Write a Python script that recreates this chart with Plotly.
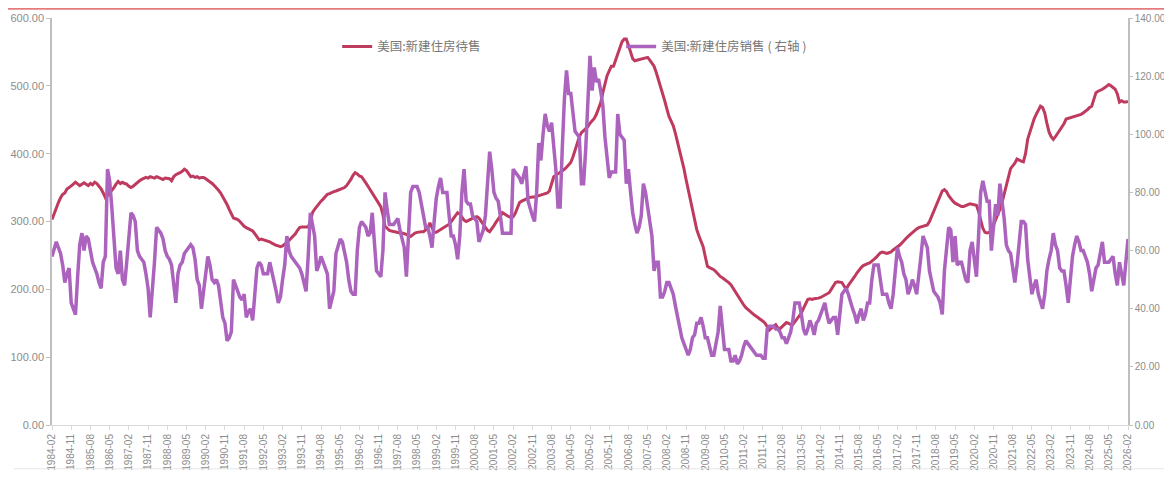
import pandas as pd
import plotly.graph_objects as go

# Monthly categories 1984-02 .. 2026-02
months = list(pd.period_range("1984-02", "2026-02", freq="M").strftime("%Y-%m"))
tick_labels = months[::9]

name_inventory = "美国:新建住房待售"
name_sales = "美国:新建住房销售 ( 右轴 )"

left_ticks = [0, 100, 200, 300, 400, 500, 600]
right_ticks = [0, 20, 40, 60, 80, 100, 120, 140]

# New homes for sale (thousands, left axis), one row per calendar year
inventory = [
    303, 312, 320, 328, 335, 340, 342, 348, 350, 352, 355,            # 1984 (Feb-Dec)
    358, 356, 353, 355, 357, 355, 353, 356, 354, 358, 356, 352,       # 1985
    348, 342, 335, 338, 342, 345, 350, 355, 359, 356, 358, 356,       # 1986
    355, 352, 350, 352, 355, 358, 360, 362, 364, 365, 364, 366,       # 1987
    365, 364, 366, 365, 363, 362, 364, 363, 363, 360, 366, 369,       # 1988
    370, 372, 374, 377, 375, 370, 366, 367, 365, 366, 364, 365,       # 1989
    365, 363, 361, 359, 356, 353, 350, 346, 342, 337, 331, 325,       # 1990
    318, 311, 305, 304, 303, 300, 296, 293, 291, 289, 288, 286,       # 1991
    282, 278, 273, 274, 273, 273, 272, 270, 268, 266, 265, 264,       # 1992
    263, 264, 266, 269, 272, 275, 278, 282, 287, 291, 292, 292,       # 1993
    292, 292, 300, 313, 318, 322, 327, 330, 333, 337, 340, 341,       # 1994
    343, 344, 345, 346, 347, 349, 350, 353, 357, 362, 368, 372,       # 1995
    370, 367, 366, 362, 357, 352, 347, 343, 338, 332, 327, 322,       # 1996
    310, 293, 290, 287, 286, 285, 284, 284, 283, 283, 282, 282,       # 1997
    280, 278, 281, 283, 284, 285, 285, 285, 287, 290, 298, 292,       # 1998
    284, 284, 286, 288, 290, 292, 293, 296, 300, 305, 309, 313,       # 1999
    311, 306, 302, 300, 301, 303, 305, 306, 307, 305, 300, 295,       # 2000
    290, 287, 285, 289, 294, 299, 303, 308, 313, 311, 308, 307,       # 2001
    306, 307, 312, 320, 328, 330, 331, 333, 335, 336, 336, 336,       # 2002
    337, 337, 338, 339, 340, 342, 345, 355, 366, 368, 370, 372,       # 2003
    374, 377, 380, 384, 387, 395, 405, 415, 425, 431, 434, 437,       # 2004
    440, 445, 448, 452, 458, 466, 475, 490, 505, 515, 522, 529,       # 2005
    529, 538, 548, 559, 565, 569, 569, 560, 548, 540, 537, 538,       # 2006
    539, 540, 541, 542, 542, 538, 534, 529, 520, 510, 500, 489,       # 2007
    478, 466, 455, 448, 441, 430, 418, 406, 392, 378, 362, 347,       # 2008
    332, 316, 298, 288, 279, 270, 263, 248, 234, 232, 231, 229,       # 2009
    226, 222, 219, 217, 215, 213, 210, 207, 202, 196, 190, 185,       # 2010
    181, 177, 173, 170, 167, 164, 162, 160, 158, 156, 153, 150,       # 2011
    145, 140, 143, 146, 148, 143, 142, 145, 148, 151, 150, 148,       # 2012
    148, 152, 156, 160, 165, 172, 180, 185, 186, 185, 186, 186,       # 2013
    187, 188, 190, 192, 193, 195, 200, 205, 210, 211, 211, 210,       # 2014
    205, 200, 206, 210, 214, 219, 224, 229, 232, 235, 237, 238,       # 2015
    239, 241, 244, 247, 250, 254, 255, 254, 253, 254, 255, 258,       # 2016
    260, 262, 265, 268, 272, 275, 278, 281, 284, 287, 289, 291,       # 2017
    292, 293, 293, 295, 300, 308, 315, 322, 330, 338, 345, 347,       # 2018
    344, 338, 333, 330, 327, 325, 323, 322, 322, 324, 325, 326,       # 2019
    325, 325, 324, 315, 300, 290, 284, 283, 284, 288, 295, 302,       # 2020
    310, 318, 328, 340, 352, 365, 378, 382, 386, 392, 390, 389,       # 2021
    388, 400, 421, 432, 440, 451, 458, 465, 470, 468, 460, 445,       # 2022
    432, 425, 421, 425, 430, 433, 438, 444, 451, 452, 453, 454,       # 2023
    454, 455, 456, 458, 460, 462, 465, 468, 470, 480, 490, 492,       # 2024
    493, 495, 497, 500, 502, 500, 498, 495, 488, 476, 478, 476,       # 2025
    476, 477,                                                         # 2026 (Jan-Feb)
]

# New home sales, not seasonally adjusted (thousands, right axis)
sales = [
    58, 61, 63, 61, 59, 55, 49, 52, 54, 42, 40,                       # 1984 (Feb-Dec)
    38, 51, 62, 66, 60, 65, 64, 60, 56, 54, 52, 49,                   # 1985
    47, 56, 58, 88, 84, 75, 62, 54, 52, 60, 50, 48,                   # 1986
    56, 64, 73, 72, 70, 60, 58, 57, 56, 52, 47, 37,                   # 1987
    45, 56, 68, 67, 66, 64, 60, 58, 57, 55, 48, 42,                   # 1988
    52, 55, 56, 59, 60, 61, 62, 61, 57, 50, 48, 40,                   # 1989
    46, 51, 58, 55, 50, 49, 50, 48, 42, 37, 35, 29,                   # 1990
    30, 32, 50, 48, 46, 44, 43, 45, 37, 39, 40, 36,                   # 1991
    45, 54, 56, 55, 52, 52, 52, 56, 53, 50, 46, 42,                   # 1992
    44, 50, 55, 65, 60, 58, 57, 56, 55, 54, 52, 49,                   # 1993
    46, 58, 73, 69, 65, 53, 55, 58, 56, 54, 52, 40,                   # 1994
    43, 46, 59, 62, 64, 63, 60, 56, 50, 46, 45, 45,                   # 1995
    60, 68, 70, 69, 68, 65, 66, 73, 62, 53, 52, 51,                   # 1996
    60, 80, 74, 69, 69, 69, 70, 71, 67, 64, 61, 51,                   # 1997
    65, 80, 82, 82, 82, 80, 75, 72, 68, 68, 65, 61,                   # 1998
    70, 78, 82, 85, 80, 80, 80, 72, 65, 65, 62, 57,                   # 1999
    65, 80, 88, 77, 76, 76, 72, 71, 70, 63, 65, 67,                   # 2000
    72, 85, 94, 88, 80, 78, 77, 72, 66, 66, 66, 66,                   # 2001
    66, 88, 87, 86, 85, 83, 86, 89, 77, 74, 72, 70,                   # 2002
    80, 97, 91, 100, 107, 103, 101, 104, 96, 88, 75, 75,              # 2003
    95, 112, 122, 114, 114, 107, 101, 100, 99, 83, 83, 95,            # 2004
    110, 127, 115, 123, 118, 119, 115, 110, 99, 92, 85, 87,           # 2005
    87, 87, 107, 100, 99, 98, 83, 88, 80, 73, 69, 66,                 # 2006
    68, 72, 83, 80, 75, 70, 65, 53, 56, 56, 44, 44,                   # 2007
    46, 49, 49, 47, 45, 41, 37, 33, 30, 28, 26, 24,                   # 2008
    26, 30, 31, 35, 35, 37, 34, 30, 30, 27, 24, 24,                   # 2009
    28, 32, 41, 33, 26, 26, 26, 22, 22, 24, 21, 22,                   # 2010
    24, 27, 29, 28, 27, 26, 25, 24, 24, 24, 23, 23,                   # 2011
    33, 34, 34, 34, 33, 33, 32, 30, 30, 28, 30, 32,                   # 2012
    36, 42, 42, 42, 38, 33, 31, 33, 36, 34, 31, 35,                   # 2013
    36, 38, 40, 42, 38, 35, 36, 37, 37, 31, 38, 45,                   # 2014
    46, 47, 45, 42, 40, 38, 35, 38, 40, 36, 38, 42,                   # 2015
    42, 50, 55, 55, 55, 50, 45, 45, 45, 42, 40, 45,                   # 2016
    52, 61, 58, 56, 52, 50, 45, 47, 50, 48, 45, 53,                   # 2017
    58, 65, 63, 61, 53, 50, 46, 45, 44, 42, 38, 53,                   # 2018
    60, 68, 67, 56, 65, 55, 56, 56, 53, 50, 49, 60,                   # 2019
    63, 58, 51, 65, 80, 84, 80, 77, 77, 60, 68, 76,                   # 2020
    72, 83, 77, 71, 62, 60, 59, 53, 49, 55, 62, 70,                   # 2021
    70, 69, 57, 50, 45, 48, 50, 45, 42, 40, 45, 53,                   # 2022
    57, 60, 66, 62, 60, 54, 53, 53, 48, 42, 50, 58,                   # 2023
    62, 65, 63, 60, 60, 58, 56, 52, 46, 50, 54, 55,                   # 2024
    60, 63, 56, 56, 56, 57, 58, 52, 48, 56, 52, 48,                   # 2025
    56, 64,                                                           # 2026 (Jan-Feb)
]

assert len(inventory) == len(months) and len(sales) == len(months)

RED = "#bf3a5f"
PURPLE = "#ab63bd"
AXIS_GREY = "#bfbfbf"
TICK_GREY = "#8c8c8c"

# The page body has an 8px margin, so the figure is sized to fit inside the window.
FIG_W, FIG_H = 1156, 463

fig = go.Figure()
fig.add_trace(go.Scatter(x=months, y=inventory, name=name_inventory, mode="lines",
                         line=dict(color=RED, width=3), yaxis="y"))
fig.add_trace(go.Scatter(x=months, y=sales, name=name_sales, mode="lines",
                         line=dict(color=PURPLE, width=3.5), yaxis="y2"))

fig.update_layout(
    width=FIG_W, height=FIG_H,
    margin=dict(l=44, r=36, t=10, b=46),
    paper_bgcolor="white", plot_bgcolor="white",
    font=dict(family="Liberation Sans, Arial, sans-serif", color=TICK_GREY),
    showlegend=True,
    legend=dict(orientation="h", x=0.265, y=0.929, xanchor="left", yanchor="middle",
                entrywidth=239, entrywidthmode="pixels", itemwidth=30,
                bgcolor="rgba(0,0,0,0)",
                font=dict(family="Noto Sans CJK SC", size=12.5, color="#777777")),
    xaxis=dict(type="category", tickmode="array", tickvals=tick_labels, ticktext=tick_labels,
               tickangle=-90, tickfont=dict(size=10, color=TICK_GREY),
               showline=True, linecolor="#d9d9d9", linewidth=1,
               ticks="outside", ticklen=4, tickcolor="#d9d9d9",
               showgrid=False, zeroline=False, automargin=False),
    yaxis=dict(range=[0, 600], tickmode="array", tickvals=left_ticks, tickformat=".2f",
               tickfont=dict(size=11, color=TICK_GREY),
               showline=True, linecolor=AXIS_GREY, linewidth=1.5,
               ticks="outside", ticklen=4, tickcolor=AXIS_GREY,
               showgrid=False, zeroline=False, automargin=False),
    yaxis2=dict(range=[0, 140], overlaying="y", side="right", tickmode="array",
                tickvals=right_ticks, tickformat=".2f",
                tickfont=dict(size=10, color=TICK_GREY),
                showline=True, linecolor=AXIS_GREY, linewidth=1.5,
                ticks="outside", ticklen=3, tickcolor=AXIS_GREY,
                showgrid=False, zeroline=False, automargin=False),
    shapes=[
        dict(type="line", xref="paper", yref="paper", x0=-0.041, x1=1.034,
             y0=1.0225, y1=1.0225, line=dict(color="#e57b7b", width=2)),
        dict(type="line", xref="paper", yref="paper", x0=-0.0353, x1=1.034,
             y0=-0.1075, y1=-0.1075, line=dict(color="#e6e6e6", width=1)),
    ],
)

fig.write_html("out.html")
